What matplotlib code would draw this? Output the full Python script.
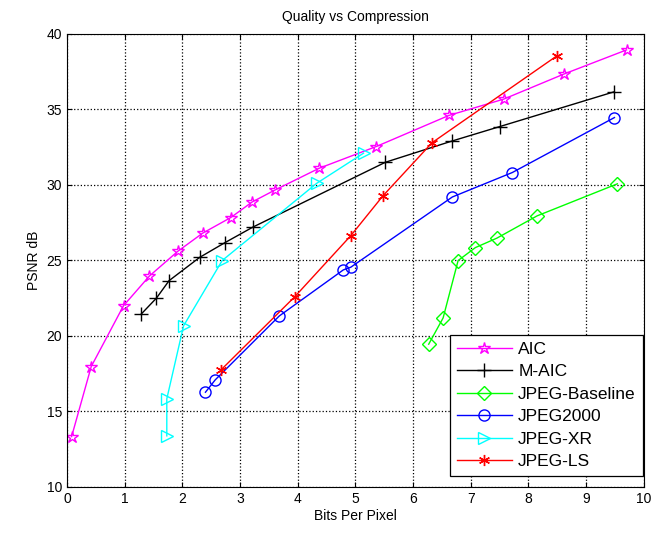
import matplotlib.pyplot as plt
import numpy as np

plt.rcParams['font.family'] = ['Liberation Sans', 'DejaVu Sans']

# data
aic_x = [0.08, 0.42, 0.98, 1.43, 1.92, 2.35, 2.84, 3.21, 3.60, 4.37, 5.36, 6.62, 7.57, 8.62, 9.70]
aic_y = [13.33, 17.97, 22.0, 23.97, 25.6, 26.8, 27.84, 28.87, 29.65, 31.1, 32.54, 34.6, 35.68, 37.35, 38.94]

maic_x = [1.29, 1.55, 1.77, 2.30, 2.74, 3.22, 5.52, 6.67, 7.50, 9.48]
maic_y = [21.46, 22.5, 23.66, 25.2, 26.18, 27.2, 31.5, 32.9, 33.86, 36.16]

jpeg_x = [6.27, 6.52, 6.78, 7.08, 7.45, 8.15, 9.54]
jpeg_y = [19.45, 21.19, 24.99, 25.85, 26.47, 27.95, 30.07]

j2k_x = [2.40, 2.57, 3.68, 4.79, 4.92, 6.68, 7.72, 9.49]
j2k_y = [16.27, 17.09, 21.32, 24.37, 24.55, 29.2, 30.82, 34.46]

xr_x = [1.73, 1.73, 2.02, 2.69, 4.33, 5.14]
xr_y = [13.38, 15.83, 20.66, 24.99, 30.11, 32.1]

ls_x = [2.67, 3.95, 4.92, 5.48, 6.33, 8.49]
ls_y = [17.75, 22.6, 26.64, 29.29, 32.8, 38.54]

fig = plt.figure(figsize=(6.7, 5.38), dpi=100)
ax = fig.add_axes([0.100, 0.095, 0.861, 0.842])

ms = 8
ax.plot(aic_x, aic_y, color='#ff00ff', marker='*', ms=ms + 1, mfc='none', lw=1, label='AIC')
ax.plot(maic_x, maic_y, color='black', marker='+', ms=ms + 2, mew=1, lw=1, label='M-AIC')
ax.plot(jpeg_x, jpeg_y, color='#00ff00', marker='D', ms=ms - 1, mfc='none', lw=1, label='JPEG-Baseline')
ax.plot(j2k_x, j2k_y, color='#0000ff', marker='o', ms=ms, mfc='none', lw=1, label='JPEG2000')
ax.plot(xr_x, xr_y, color='#00ffff', marker='>', ms=ms + 1, mfc='none', lw=1, label='JPEG-XR')
ax.plot(ls_x, ls_y, color='#ff0000', marker=(6, 2, 0), ms=ms, mew=1, lw=1, label='JPEG-LS')

ax.set_xlim(0, 10)
ax.set_ylim(10, 40)
ax.set_xticks(np.arange(0, 11, 1))
ax.set_yticks(np.arange(10, 41, 5))
ax.grid(True, linestyle=':', color='black', lw=0.9)
ax.tick_params(direction='in', top=True, right=True, labelsize=10)
for s in ax.spines.values():
    s.set_linewidth(0.8)

ax.set_title('Quality vs Compression', fontsize=10, pad=9)
ax.set_xlabel('Bits Per Pixel', fontsize=10, labelpad=2)
ax.set_ylabel('PSNR dB', fontsize=10)

leg = ax.legend(loc='lower right', bbox_to_anchor=(0.998, 0.024), borderaxespad=0,
                fontsize=12.5, fancybox=False, framealpha=1, edgecolor='black',
                handlelength=3.2, handletextpad=0.35, labelspacing=0.42)
leg.get_frame().set_linewidth(0.9)

plt.savefig('out.png', dpi=100)
